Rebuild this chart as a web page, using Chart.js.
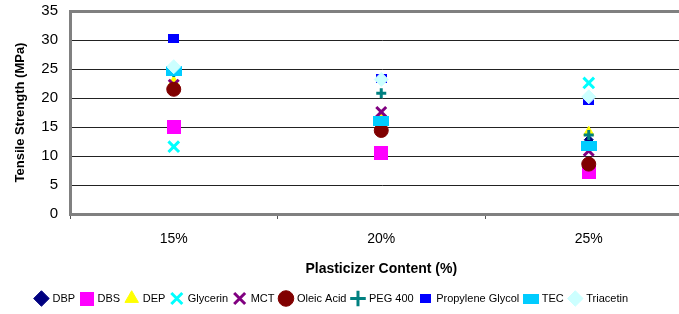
<!DOCTYPE html>
<html>
<head>
<meta charset="utf-8">
<script src="https://cdn.jsdelivr.net/npm/chart.js@4.4.1/dist/chart.umd.min.js"></script>
<style>
  body { margin: 0; background: #fff; overflow: hidden; }
  #wrap { width: 703px; height: 314px; position: relative; }
</style>
</head>
<body>
<div id="wrap"><canvas id="myChart"></canvas></div>
<script>
// ------------- data -------------------------------------
const categories = ["15%", "20%", "25%"];
const seriesNames = ["DBP", "DBS", "DEP", "Glycerin", "MCT", "Oleic Acid", "PEG 400", "Propylene Glycol", "TEC", "Triacetin"];
const dbp = [21.5, 16.2, 12.8];
const dbs = [15.0, 10.5, 7.3];
const dep = [22.8, 16.5, 14.1];
const glycerin = [11.6, 16.0, 22.6];
const mct = [22.3, 17.6, 10.9];
const oleicAcid = [21.5, 14.4, 8.6];
const peg400 = [24.5, 20.8, 13.6];
const propyleneGlycol = [30.3, 23.3, 19.6];
const tec = [24.6, 16.0, 11.8];
const triacetin = [25.4, 23.2, 20.2];
const yTicks = [0, 5, 10, 15, 20, 25, 30, 35];

function box(w, h, color) {
  const c = document.createElement("canvas");
  c.width = w;
  c.height = h;
  const g = c.getContext("2d");
  g.fillStyle = color;
  g.fillRect(0, 0, w, h);
  return c;
}

const styles = [
  { color: "#000080", pointStyle: "rectRot", radius: 4.5, borderWidth: 1 },
  { color: "#FF00FF", pointStyle: box(14, 14, "#FF00FF") },
  { color: "#FFFF00", pointStyle: "triangle", radius: 6, borderWidth: 1 },
  { color: "#00FFFF", pointStyle: "crossRot", radius: 7.5, borderWidth: 3 },
  { color: "#800080", pointStyle: "crossRot", radius: 7, borderWidth: 3 },
  { color: "#800000", pointStyle: "circle", radius: 7, borderWidth: 1 },
  { color: "#008080", pointStyle: "cross", radius: 5, borderWidth: 3 },
  { color: "#0000FF", pointStyle: box(11, 9, "#0000FF") },
  { color: "#00CCFF", pointStyle: box(16, 10, "#00CCFF") },
  { color: "#CCFFFF", pointStyle: "rectRot", radius: 7, borderWidth: 1 },
];
const values = [dbp, dbs, dep, glycerin, mct, oleicAcid, peg400, propyleneGlycol, tec, triacetin];

// legend sits a bit left of the plot centre in the original
const legendShift = {
  id: "legendShift",
  afterLayout(chart) {
    if (chart.legend) {
      chart.legend.left -= 26;
      chart.legend.right -= 26;
    }
  },
};

document.addEventListener("DOMContentLoaded", () => {
  const ctx = document.getElementById("myChart");
  new Chart(ctx, {
    type: "line",
    plugins: [legendShift],
    data: {
      labels: categories,
      datasets: seriesNames.map((name, i) => ({
        label: name,
        data: values[i],
        showLine: false,
        backgroundColor: styles[i].color,
        borderColor: styles[i].color,
        pointStyle: styles[i].pointStyle,
        pointRadius: styles[i].radius || 7,
        pointBorderWidth: styles[i].borderWidth || 1,
        pointHoverRadius: styles[i].radius || 7,
        order: seriesNames.length - i,
      })),
    },
    options: {
      responsive: true,
      maintainAspectRatio: false,
      animation: false,
      layout: { padding: { top: 0, left: 13, right: 0, bottom: 0 } },
      plugins: {
        tooltip: { enabled: false },
        legend: {
          position: "bottom",
          labels: {
            usePointStyle: true,
            boxHeight: 11,
            padding: 6,
            color: "#000",
            font: { family: "Arial, 'Liberation Sans'", size: 11 },
            sort: (a, b) => a.datasetIndex - b.datasetIndex,
          },
        },
      },
      scales: {
        x: {
          type: "category",
          offset: true,
          afterFit: (axis) => {
            axis.height = 73;
          },
          grid: {
            offset: true,
            drawOnChartArea: false,
            color: "#555",
            tickLength: 5,
          },
          border: { color: "#808080", width: 3 },
          ticks: {
            color: "#000",
            padding: 12,
            font: { family: "Arial, 'Liberation Sans'", size: 14 },
          },
          title: {
            display: true,
            text: "Plasticizer Content (%)",
            color: "#000",
            padding: { top: 6, bottom: 9 },
            font: { family: "Arial, 'Liberation Sans'", size: 14, weight: "bold" },
          },
        },
        y: {
          min: 0,
          max: 35,
          afterFit: (axis) => {
            axis.width = 57;
          },
          afterBuildTicks: (axis) => {
            axis.ticks = yTicks.map((v) => ({ value: v }));
          },
          grid: {
            color: (c) => (c.tick && c.tick.value === 35 ? "#808080" : "#222"),
            lineWidth: (c) => (c.tick && c.tick.value === 35 ? 3 : 1),
            tickLength: 10,
            tickColor: "rgba(0,0,0,0)",
          },
          border: { color: "#808080", width: 3 },
          ticks: {
            color: "#000",
            padding: 2,
            font: { family: "Arial, 'Liberation Sans'", size: 15 },
          },
          title: {
            display: true,
            text: "Tensile Strength (MPa)",
            color: "#000",
            padding: { top: 0, bottom: 14 },
            font: { family: "Arial, 'Liberation Sans'", size: 13, weight: "bold" },
          },
        },
      },
    },
  });
});
</script>
</body>
</html>
